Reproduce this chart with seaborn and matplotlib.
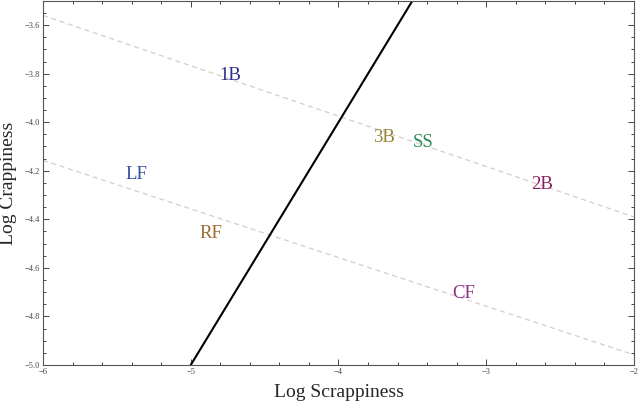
import numpy as np
import pandas as pd
import matplotlib
matplotlib.use('Agg')
import matplotlib.pyplot as plt
from matplotlib.ticker import MultipleLocator
import seaborn as sns

# ── Data ─────────────────────────────────────────────────────
diag_x = [-5.0, -3.5]          # solid black line
diag_y = [-5.0, -3.5]
upper_x = [-6.0, -2.0]         # upper dashed guide
upper_y = [-3.56, -4.39]
lower_x = [-6.0, -2.0]         # lower dashed guide
lower_y = [-4.157, -4.958]

positions = ['1B', 'LF', 'RF', '3B', 'SS', '2B', 'CF']
pos_x = [-4.73, -5.37, -4.865, -3.69, -3.43, -2.62, -3.155]
pos_y = [-3.808, -4.215, -4.457, -4.063, -4.083, -4.256, -4.707]
pos_colors = ['#2d2d90', '#2f4f9a', '#9b6a2e', '#958535', '#2e8b57', '#8b1f5f', '#8b2f82']

# ── Style ────────────────────────────────────────────────────
sns.set_style('ticks')
plt.rcParams['font.family'] = ['Liberation Serif', 'DejaVu Serif']

fig = plt.figure(figsize=(6.4, 4.03), dpi=100)
ax = fig.add_axes([0.0672, 0.0943, 0.9234, 0.9037])

guides = pd.DataFrame({
    'x': upper_x + lower_x,
    'y': upper_y + lower_y,
    'guide': ['upper'] * 2 + ['lower'] * 2,
})
for g, sub in guides.groupby('guide'):
    sns.lineplot(data=sub, x='x', y='y', ax=ax, color='#dccaca',
                 lw=0.9, dashes=False, linestyle=(0, (4, 3)), legend=False)

sns.lineplot(x=diag_x, y=diag_y, ax=ax, color='black', lw=1.5)

for name, x, y, c in zip(positions, pos_x, pos_y, pos_colors):
    ax.text(x, y, name, color=c, fontsize=13.5, ha='center', va='center')

ax.set_xlim(-6, -2)
ax.set_ylim(-5.0, -3.5)
ax.xaxis.set_major_locator(MultipleLocator(1))
ax.xaxis.set_minor_locator(MultipleLocator(0.2))
ax.yaxis.set_major_locator(MultipleLocator(0.2))
ax.yaxis.set_minor_locator(MultipleLocator(0.05))
ax.tick_params(which='both', direction='in', top=True, right=True,
               colors='#444444', labelsize=6, width=0.7, pad=2)
ax.tick_params(which='major', length=4)
ax.tick_params(which='minor', length=2)
ax.yaxis.set_major_formatter(matplotlib.ticker.FuncFormatter(
    lambda v, p: f'\u2212{abs(v):.1f}' if v < 0 else f'{v:.1f}'))
ax.xaxis.set_major_formatter(matplotlib.ticker.FuncFormatter(
    lambda v, p: f'\u2212{abs(v):.0f}' if v < 0 else f'{v:.0f}'))
for s in ax.spines.values():
    s.set_color('#555555')
    s.set_linewidth(0.8)

ax.set_xlabel('Log Scrappiness', fontsize=14, labelpad=6)
ax.set_ylabel('Log Crappiness', fontsize=14, labelpad=6)

plt.savefig('out.png', dpi=100)
plt.close()
